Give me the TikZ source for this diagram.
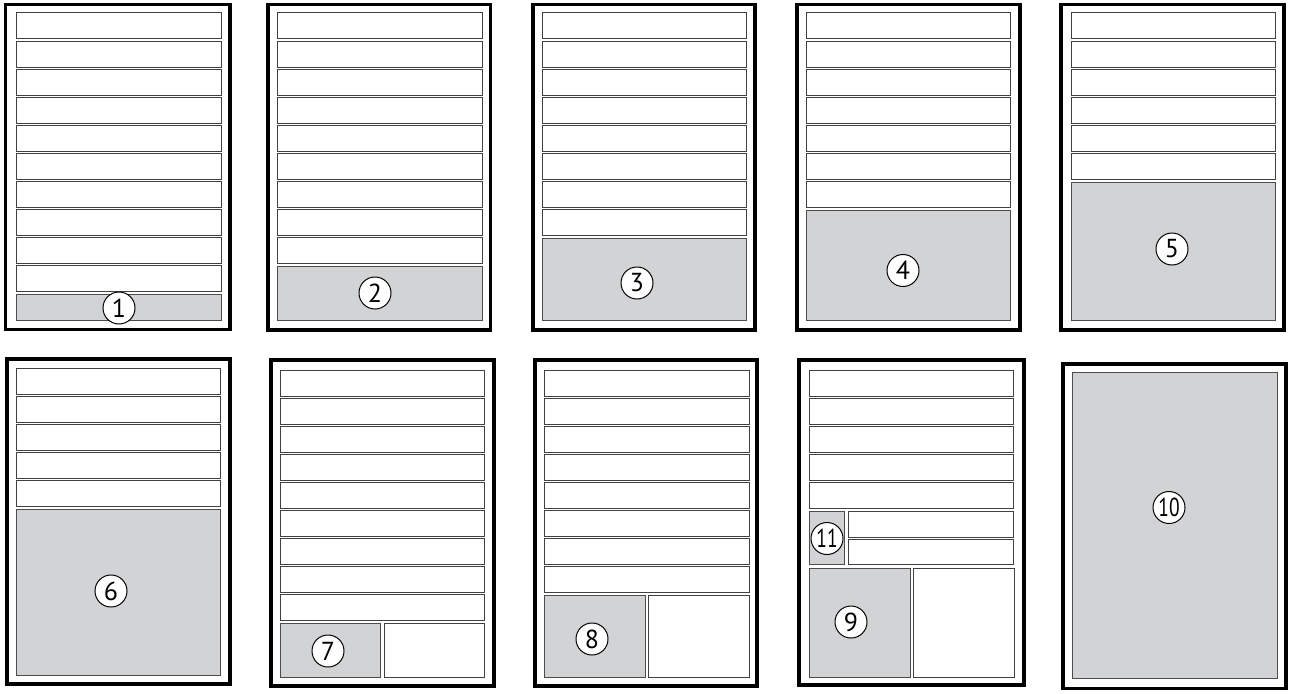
\documentclass[tikz,border=0pt]{standalone}
\usepackage{fontspec}
\setmainfont{PT Sans}
\definecolor{gris}{RGB}{209,211,212}
\tikzset{
  cadre/.style={draw=black, line width=3.2pt},
  ligne/.style={draw=black!75, line width=1pt, fill=white},
  zone/.style={draw=black!70, line width=1pt, fill=gris},
  numero/.style={circle, draw=black, fill=white, line width=1pt, minimum size=32pt, inner sep=0pt, font=\fontsize{26}{26}\selectfont}
}
\begin{document}
\begin{tikzpicture}[x=1pt, y=-1pt]
        \useasboundingbox (0,0) rectangle (1292,693);
        % Premiere rangee
        \draw[cadre] (5.5,4.5) rectangle (230,329.5);
        \foreach \i in {0,...,9}
            \draw[ligne] (16,{13+28.1*\i}) rectangle (221,{39+28.1*\i});
        \draw[zone] (16,294) rectangle (221,320);
        \node[numero] (n1) at (119,308) {1};

        \draw[cadre] (268,4.5) rectangle (490.5,330);
        \foreach \i in {0,...,8}
            \draw[ligne] (277,{13+28.1*\i}) rectangle (482,{39+28.1*\i});
        \draw[zone] (277,266) rectangle (482,320);
        \node[numero] (n2) at (375,293) {2};

        \draw[cadre] (533,4.5) rectangle (755,330);
        \foreach \i in {0,...,7}
            \draw[ligne] (542,{13+28.1*\i}) rectangle (746,{39+28.1*\i});
        \draw[zone] (542,238) rectangle (746,320);
        \node[numero] (n3) at (637,283) {3};

        \draw[cadre] (797,4.5) rectangle (1020,330);
        \foreach \i in {0,...,6}
            \draw[ligne] (806,{13+28.1*\i}) rectangle (1010,{39+28.1*\i});
        \draw[zone] (806,210) rectangle (1010,320);
        \node[numero] (n4) at (903,270.5) {4};

        \draw[cadre] (1061,4.5) rectangle (1284,330);
        \foreach \i in {0,...,5}
            \draw[ligne] (1071,{13+28.1*\i}) rectangle (1275,{39+28.1*\i});
        \draw[zone] (1071,182) rectangle (1275,320);
        \node[numero] (n5) at (1172,249) {5};

        % Deuxieme rangee
        \draw[cadre] (7,359) rectangle (230,684);
        \foreach \i in {0,...,4}
            \draw[ligne] (16,{368+28.1*\i}) rectangle (220,{394+28.1*\i});
        \draw[zone] (16,509) rectangle (220,675);
        \node[numero] (n6) at (111,591) {6};

        \draw[cadre] (271,360) rectangle (494,686);
        \foreach \i in {0,...,8}
            \draw[ligne] (280,{370+28.1*\i}) rectangle (484,{396+28.1*\i});
        \draw[zone] (280,623) rectangle (380,677);
        \draw[ligne] (384,623) rectangle (484,677);
        \node[numero] (n7) at (328,651) {7};

        \draw[cadre] (535,360) rectangle (757,686);
        \foreach \i in {0,...,7}
            \draw[ligne] (544,{370+28.1*\i}) rectangle (749,{396+28.1*\i});
        \draw[zone] (544,595) rectangle (645,677);
        \draw[ligne] (648,595) rectangle (749,677);
        \node[numero] (n8) at (592,639) {8};

        \draw[cadre] (799,360) rectangle (1024,685);
        \foreach \i in {0,...,4}
            \draw[ligne] (809,{370+28.1*\i}) rectangle (1013,{396+28.1*\i});
        \draw[zone] (809,511) rectangle (844,564);
        \draw[ligne] (848,511) rectangle (1013,537);
        \draw[ligne] (848,539) rectangle (1013,564);
        \draw[zone] (809,568) rectangle (910,677);
        \draw[ligne] (913,568) rectangle (1014,677);
        \node[numero] (n11) at (827,538.5) {\scalebox{0.75}[1]{11}};
        \node[numero] (n9) at (851,622) {9};

        \draw[cadre] (1063,364) rectangle (1286,688.5);
        \draw[zone] (1072,372) rectangle (1277,678);
        \node[numero] (n10) at (1169,507.5) {\scalebox{0.75}[1]{10}};
    \end{tikzpicture}
\end{document}
